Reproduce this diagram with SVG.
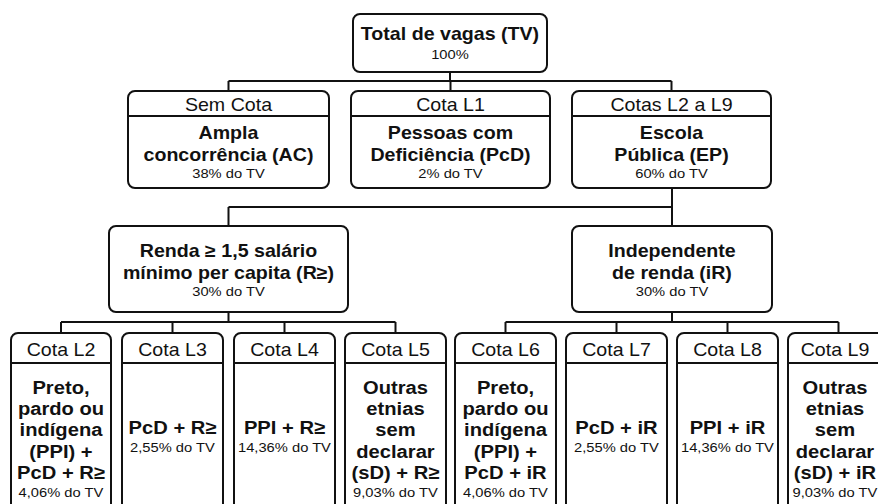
<svg xmlns="http://www.w3.org/2000/svg" width="878" height="504" viewBox="0 0 878 504">
<style>
text{font-family:"Liberation Sans",Arial,sans-serif;text-anchor:middle;fill:#111;transform-box:fill-box;transform-origin:center;transform:scaleX(1.09)}
.b{font-weight:bold;font-size:18px}
.bb{font-weight:bold;font-size:18.5px}
.h{font-size:18px}
.s{font-size:13.5px}
.box{fill:#fff;stroke:#111;stroke-width:2}
.div{stroke:#111;stroke-width:2}
.con{fill:none;stroke:#111;stroke-width:2}
</style>
<rect width="878" height="504" fill="#fff"/>
<g id="connectors" class="con">
<path d="M450 72V81M228.5 81H671.5M228.5 81V91M450.5 81V91M671.5 81V91"/>
<path d="M672 188V226M228.5 207H672M228.5 207V226"/>
<path d="M228.5 312V322M61 322H395.5M61 322V333M172.5 322V333M284.5 322V333M395.5 322V333"/>
<path d="M672 312V322M505.5 322H838.5M505.5 322V333M616.5 322V333M727.5 322V333M838.5 322V333"/>
</g>
<g id="total">
<rect class="box" x="353" y="14" width="194" height="58" rx="7"/>
<text class="b" x="450" y="40">Total de vagas (TV)</text>
<text class="s" x="450" y="59">100%</text>
</g>
<g id="semcota">
<rect class="box" x="128" y="91" width="201" height="97" rx="7"/>
<line class="div" x1="128" y1="116" x2="329" y2="116"/>
<text class="h" x="228.5" y="111">Sem Cota</text>
<text class="b" x="228.5" y="139">Ampla</text>
<text class="b" x="228.5" y="161">concorrência (AC)</text>
<text class="s" x="228.5" y="178">38% do TV</text>
</g>
<g id="cotaL1">
<rect class="box" x="351" y="91" width="199" height="97" rx="7"/>
<line class="div" x1="351" y1="116" x2="550" y2="116"/>
<text class="h" x="450.5" y="111">Cota L1</text>
<text class="b" x="450.5" y="139">Pessoas com</text>
<text class="b" x="450.5" y="161">Deficiência (PcD)</text>
<text class="s" x="450.5" y="178">2% do TV</text>
</g>
<g id="cotasL2L9">
<rect class="box" x="572" y="91" width="199" height="97" rx="7"/>
<line class="div" x1="572" y1="116" x2="771" y2="116"/>
<text class="h" x="671.5" y="111">Cotas L2 a L9</text>
<text class="b" x="671.5" y="139">Escola</text>
<text class="b" x="671.5" y="161">Pública (EP)</text>
<text class="s" x="671.5" y="178">60% do TV</text>
</g>
<g id="renda">
<rect class="box" x="109" y="226" width="239" height="86" rx="7"/>
<text class="b" x="228.5" y="257">Renda ≥ 1,5 salário</text>
<text class="b" x="228.5" y="279">mínimo per capita (R≥)</text>
<text class="s" x="228.5" y="296">30% do TV</text>
</g>
<g id="independente">
<rect class="box" x="572" y="226" width="200" height="86" rx="7"/>
<text class="b" x="672" y="257">Independente</text>
<text class="b" x="672" y="279">de renda (iR)</text>
<text class="s" x="672" y="296">30% do TV</text>
</g>
<g id="L2">
<rect class="box" x="11" y="333" width="100" height="200" rx="7"/>
<line class="div" x1="11" y1="363" x2="111" y2="363"/>
<text class="h" x="61" y="356">Cota L2</text>
<text class="bb" x="61" y="394">Preto,</text>
<text class="bb" x="61" y="415">pardo ou</text>
<text class="bb" x="61" y="436">indígena</text>
<text class="bb" x="61" y="458">(PPI) +</text>
<text class="bb" x="61" y="479">PcD + R≥</text>
<text class="s" x="61" y="497">4,06% do TV</text>
</g>
<g id="L3">
<rect class="box" x="122" y="333" width="101" height="200" rx="7"/>
<line class="div" x1="122" y1="363" x2="223" y2="363"/>
<text class="h" x="172.5" y="356">Cota L3</text>
<text class="bb" x="172.5" y="434">PcD + R≥</text>
<text class="s" x="172.5" y="452">2,55% do TV</text>
</g>
<g id="L4">
<rect class="box" x="234" y="333" width="101" height="200" rx="7"/>
<line class="div" x1="234" y1="363" x2="335" y2="363"/>
<text class="h" x="284.5" y="356">Cota L4</text>
<text class="bb" x="284.5" y="434">PPI + R≥</text>
<text class="s" x="284.5" y="452">14,36% do TV</text>
</g>
<g id="L5">
<rect class="box" x="345" y="333" width="101" height="200" rx="7"/>
<line class="div" x1="345" y1="363" x2="446" y2="363"/>
<text class="h" x="395.5" y="356">Cota L5</text>
<text class="bb" x="395.5" y="394">Outras</text>
<text class="bb" x="395.5" y="415">etnias</text>
<text class="bb" x="395.5" y="436">sem</text>
<text class="bb" x="395.5" y="458">declarar</text>
<text class="bb" x="395.5" y="479">(sD) + R≥</text>
<text class="s" x="395.5" y="497">9,03% do TV</text>
</g>
<g id="L6">
<rect class="box" x="455" y="333" width="101" height="200" rx="7"/>
<line class="div" x1="455" y1="363" x2="556" y2="363"/>
<text class="h" x="505.5" y="356">Cota L6</text>
<text class="bb" x="505.5" y="394">Preto,</text>
<text class="bb" x="505.5" y="415">pardo ou</text>
<text class="bb" x="505.5" y="436">indígena</text>
<text class="bb" x="505.5" y="458">(PPI) +</text>
<text class="bb" x="505.5" y="479">PcD + iR</text>
<text class="s" x="505.5" y="497">4,06% do TV</text>
</g>
<g id="L7">
<rect class="box" x="566" y="333" width="101" height="200" rx="7"/>
<line class="div" x1="566" y1="363" x2="667" y2="363"/>
<text class="h" x="616.5" y="356">Cota L7</text>
<text class="bb" x="616.5" y="434">PcD + iR</text>
<text class="s" x="616.5" y="452">2,55% do TV</text>
</g>
<g id="L8">
<rect class="box" x="677" y="333" width="101" height="200" rx="7"/>
<line class="div" x1="677" y1="363" x2="778" y2="363"/>
<text class="h" x="727.5" y="356">Cota L8</text>
<text class="bb" x="727.5" y="434">PPI + iR</text>
<text class="s" x="727.5" y="452">14,36% do TV</text>
</g>
<g id="L9">
<rect class="box" x="788" y="333" width="101" height="200" rx="7"/>
<line class="div" x1="788" y1="363" x2="889" y2="363"/>
<text class="h" x="835" y="356">Cota L9</text>
<text class="bb" x="835" y="394">Outras</text>
<text class="bb" x="835" y="415">etnias</text>
<text class="bb" x="835" y="436">sem</text>
<text class="bb" x="835" y="458">declarar</text>
<text class="bb" x="835" y="479">(sD) + iR</text>
<text class="s" x="835" y="497">9,03% do TV</text>
</g>
</svg>
